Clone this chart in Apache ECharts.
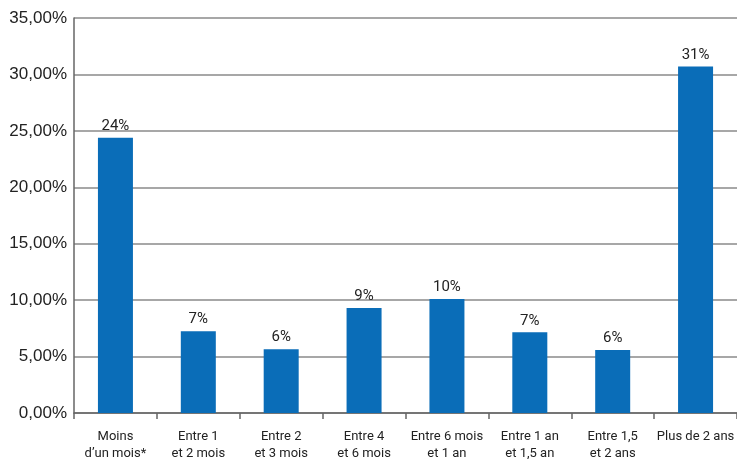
<!DOCTYPE html>
<html><head><meta charset="utf-8">
<script src="https://cdn.jsdelivr.net/npm/echarts@6/dist/echarts.min.js"></script>
<style>html,body{margin:0;padding:0;background:#fff}#c{width:737px;height:459px}</style>
</head><body><div id="c"></div>
<script>
const categories = ["Moins\nd\u2019un mois*", "Entre 1\net 2 mois", "Entre 2\net 3 mois", "Entre 4\net 6 mois", "Entre 6 mois\net 1 an", "Entre 1 an\net 1,5 an", "Entre 1,5\net 2 ans", "Plus de 2 ans"];
const values = [24.4, 7.25, 5.65, 9.3, 10.1, 7.15, 5.58, 30.7];
const yTicks = [0, 5, 10, 15, 20, 25, 30, 35];

const chart = echarts.init(document.getElementById('c'), null, {renderer: 'canvas'});
chart.setOption({
  animation: false,
  grid: {left: 74, right: 0, top: 18, bottom: 46, outerBoundsMode: 'none', containLabel: false},
  xAxis: {
    type: 'category', data: categories,
    axisLine: {lineStyle: {color: '#666', width: 1.5}},
    axisTick: {show: true, length: 6, lineStyle: {color: '#666', width: 1.5}},
    axisLabel: {color: '#222', fontFamily: 'Roboto', fontSize: 13, lineHeight: 17, margin: 15, interval: 0}
  },
  yAxis: {
    type: 'value', min: yTicks[0], max: yTicks[yTicks.length - 1], interval: 5,
    axisLine: {show: true, lineStyle: {color: '#666', width: 1.5}},
    axisTick: {show: false},
    splitLine: {lineStyle: {color: '#8a8a8a', width: 1.5}},
    axisLabel: {color: '#222', fontFamily: 'Liberation Sans', fontSize: 17, margin: 7,
      formatter: v => v.toFixed(2).replace('.', ',') + '%'}
  },
  series: [{
    type: 'bar', data: values, barWidth: 35,
    itemStyle: {color: '#0a6db8'},
    label: {show: true, position: 'top', distance: 4, color: '#222', fontFamily: 'Roboto', fontSize: 15,
      formatter: p => Math.round(p.value) + '%'}
  }]
});
</script></body></html>
